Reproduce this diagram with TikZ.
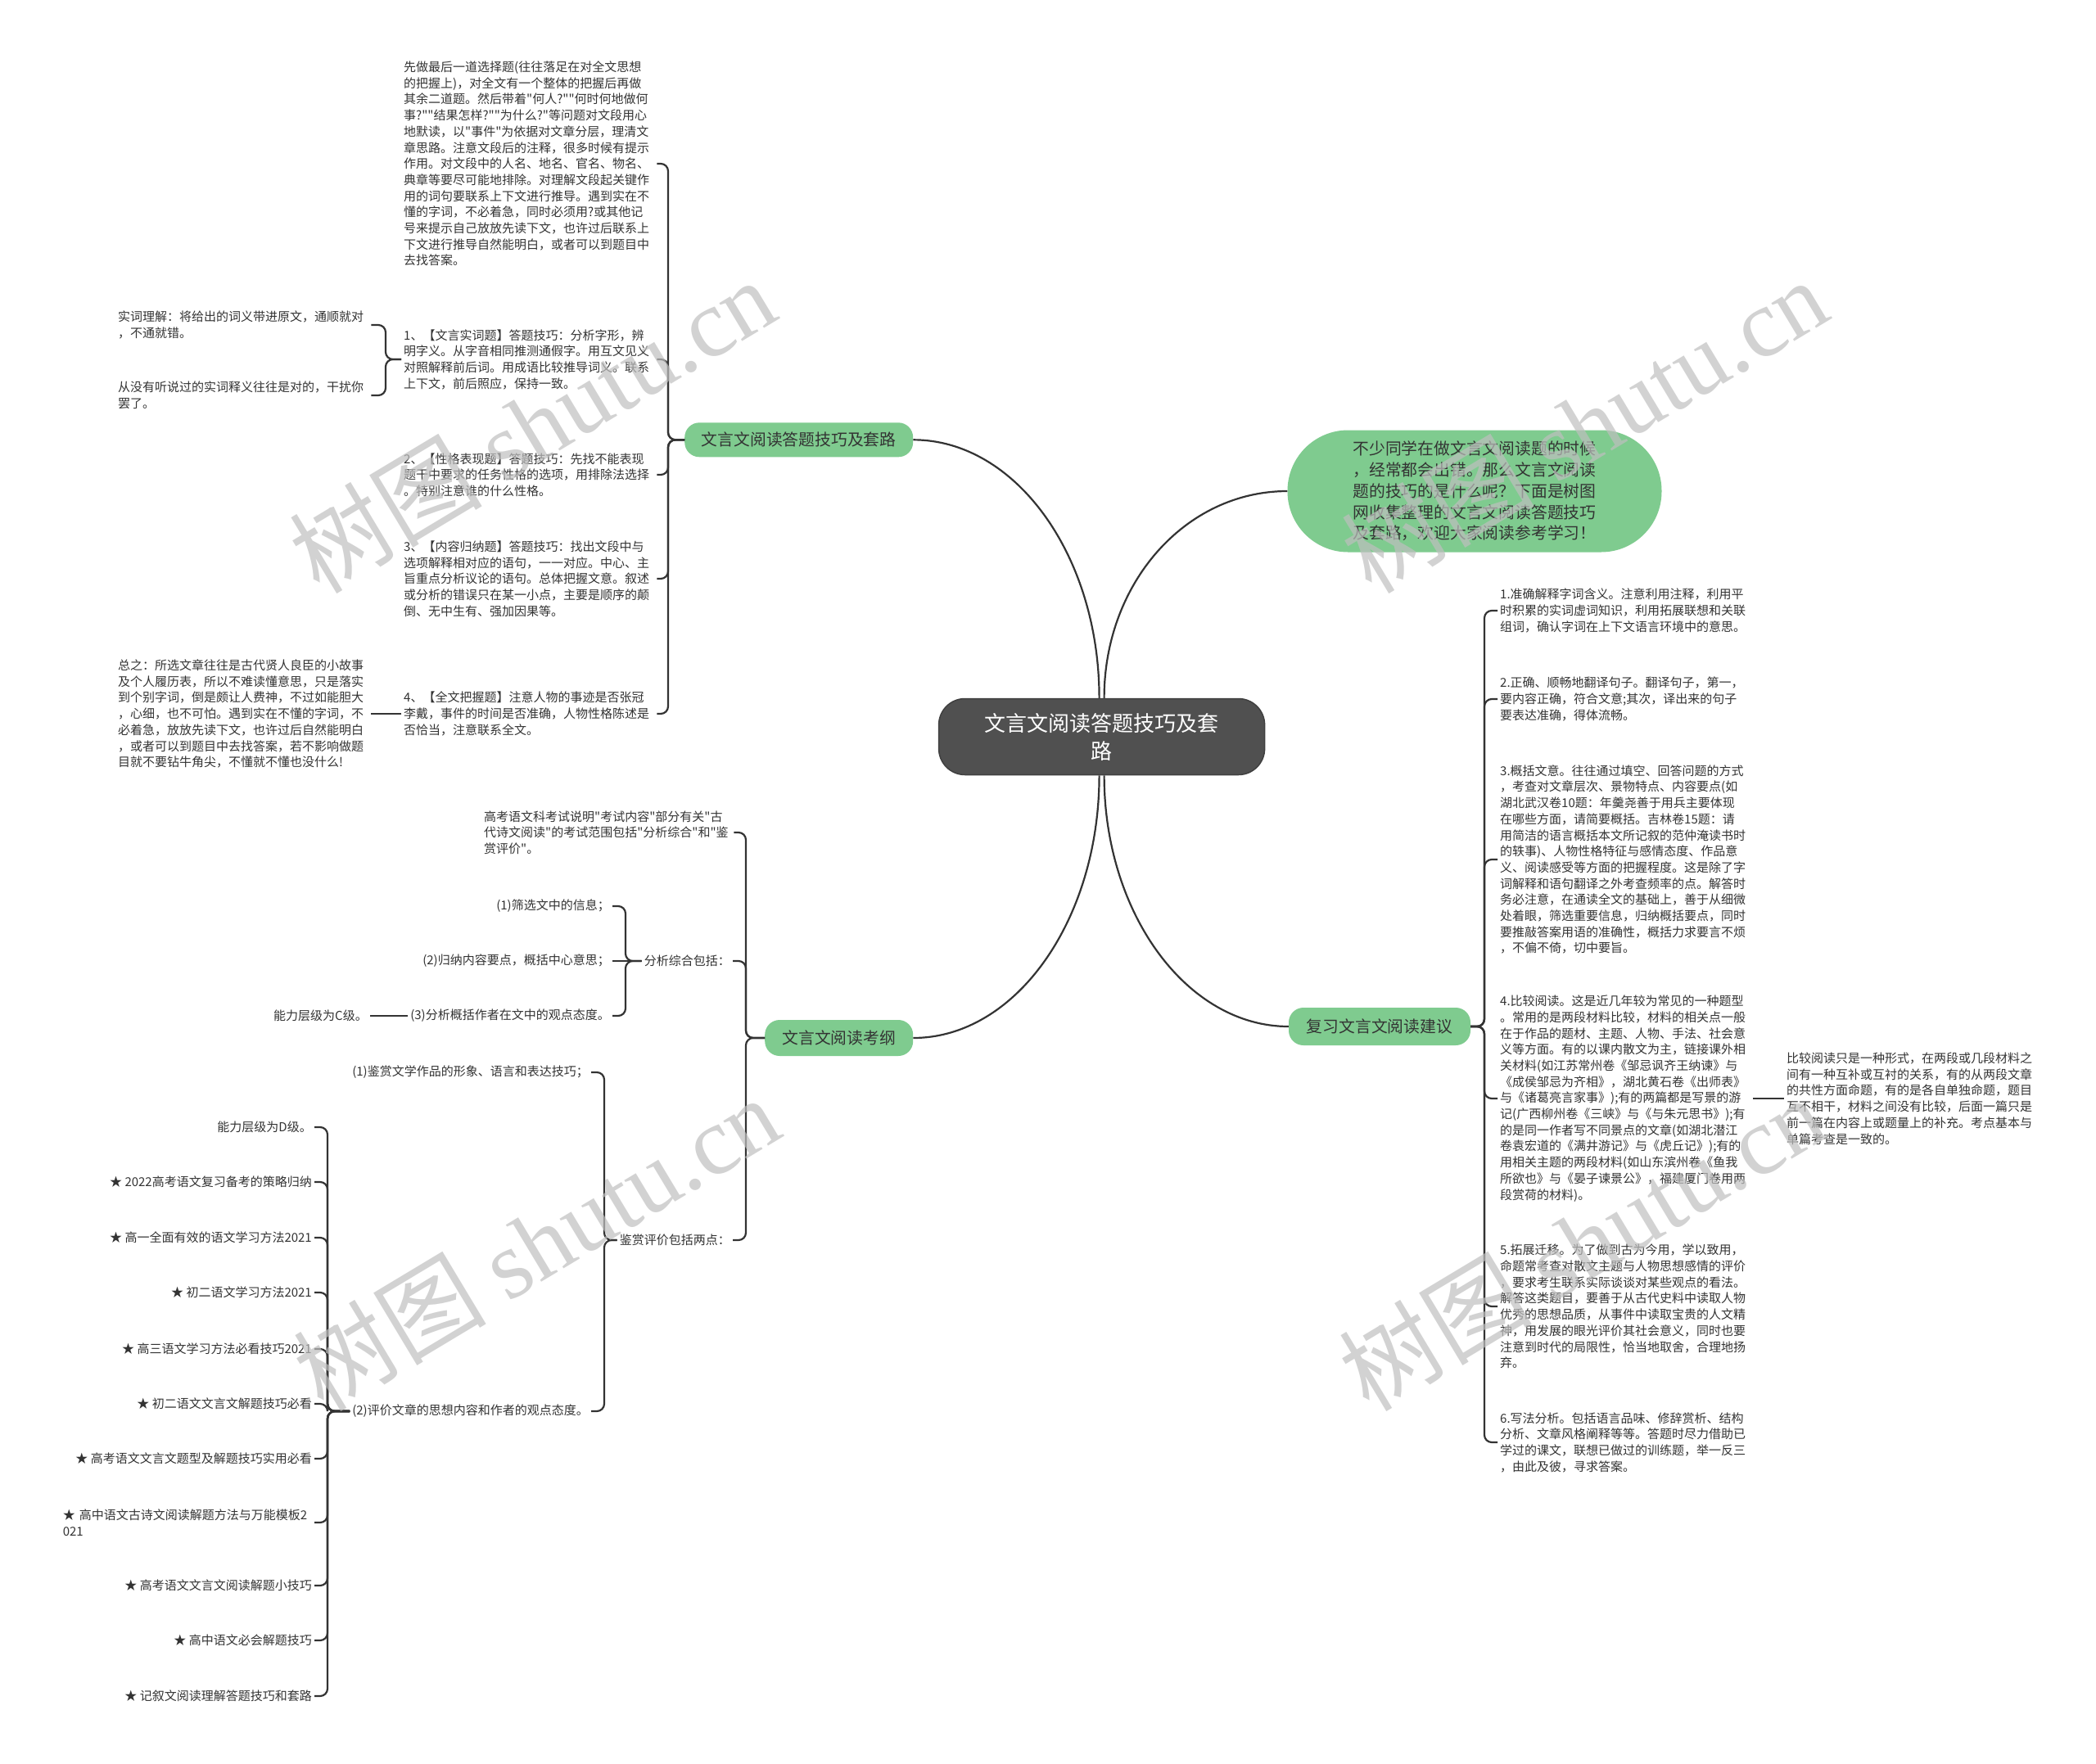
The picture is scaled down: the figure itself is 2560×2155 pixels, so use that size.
\documentclass[tikz,border=0pt]{standalone}
\usepackage{fontspec}
\newfontfamily\cjk{Noto Sans CJK SC}
\newfontfamily\wmserif{Liberation Serif}
\definecolor{linec}{HTML}{333333}
\definecolor{txtc}{HTML}{333333}
\definecolor{greenc}{HTML}{7FCB8F}
\definecolor{darkc}{HTML}{505050}
\newcommand{\fsmall}{\cjk\fontsize{15pt}{19.7pt}\selectfont}
\newcommand{\fbranch}{\cjk\fontsize{19.8pt}{25.7pt}\selectfont}
\newcommand{\fcenter}{\cjk\fontsize{26pt}{34pt}\selectfont}
\newcommand{\fwm}{\cjk\fontsize{118pt}{130pt}\selectfont}
\begin{document}
\begin{tikzpicture}[x=1pt,y=-1pt,
  conn/.style={draw=linec,line width=2.2pt,rounded corners=9pt},
  curve/.style={draw=linec,line width=2.2pt},
  leaf/.style={inner sep=3pt,align=left,text=txtc,font=\fsmall,text width=306pt,anchor=west},
  leafr/.style={inner sep=3pt,align=right,text=txtc,font=\fsmall,anchor=east},
  branch/.style={fill=greenc,rounded corners=18pt,text=txtc,font=\fbranch,inner sep=0pt,align=center},
  centerbox/.style={fill=darkc,draw=black!75,line width=1.5pt,rounded corners=32pt,text=white,font=\fcenter,align=center,minimum width=398pt,minimum height=93pt,inner sep=0pt},
  wm/.style={rotate=31,text=black!25,opacity=0.7,font=\fwm,inner sep=0pt}
]
\useasboundingbox (0,0) rectangle (2560,2155);
\fill[white] (0,0) rectangle (2560,2155);

% center and branches
\node[centerbox] (c) at (1345.6,900) {文言文阅读答题技巧及套\\路};
\node[branch,minimum width=279pt,minimum height=42pt] (b1) at (975.7,537.3) {文言文阅读答题技巧及套路};
\node[branch,minimum width=181pt,minimum height=44pt] (b2) at (1024.7,1268) {文言文阅读考纲};
\node[branch,minimum width=222pt,minimum height=46pt] (b3) at (1685,1254) {复习文言文阅读建议};
\node[branch,rounded corners=74pt,minimum width=457pt,minimum height=149pt,align=left] (intro) at (1801,600) {不少同学在做文言文阅读题的时候\\，经常都会出错。那么文言文阅读\\题的技巧的是什么呢？下面是树图\\网收集整理的文言文阅读答题技巧\\及套路，欢迎大家阅读参考学习！};

\draw[curve] ([xshift=-3pt]c.north) .. controls +(0,-174) and +(125,0) .. (b1.east);
\draw[curve] ([xshift=3pt]c.north) .. controls +(0,-140) and +(-125,0) .. (intro.west);
\draw[curve] ([xshift=-3pt]c.south) .. controls +(0,177) and +(125,0) .. (b2.east);
\draw[curve] ([xshift=3pt]c.south) .. controls +(0,169) and +(-124,0) .. (b3.west);

% ---- branch 1 children
\node[leaf] (c1) at (490,200) {先做最后一道选择题(往往落足在对全文思想\\的把握上)，对全文有一个整体的把握后再做\\其余二道题。然后带着"何人?""何时何地做何\\事?""结果怎样?""为什么?"等问题对文段用心\\地默读，以"事件"为依据对文章分层，理清文\\章思路。注意文段后的注释，很多时候有提示\\作用。对文段中的人名、地名、官名、物名、\\典章等要尽可能地排除。对理解文段起关键作\\用的词句要联系上下文进行推导。遇到实在不\\懂的字词，不必着急，同时必须用?或其他记\\号来提示自己放放先读下文，也许过后联系上\\下文进行推导自然能明白，或者可以到题目中\\去找答案。};
\node[leaf] (c2) at (490,439) {1、【文言实词题】答题技巧：分析字形，辨\\明字义。从字音相同推测通假字。用互文见义\\对照解释前后词。用成语比较推导词义。联系\\上下文，前后照应，保持一致。};
\node[leaf] (c3) at (490,580) {2、【性格表现题】答题技巧：先找不能表现\\题干中要求的任务性格的选项，用排除法选择\\。特别注意谁的什么性格。};
\node[leaf] (c4) at (490,707) {3、【内容归纳题】答题技巧：找出文段中与\\选项解释相对应的语句，一一对应。中心、主\\旨重点分析议论的语句。总体把握文意。叙述\\或分析的错误只在某一小点，主要是顺序的颠\\倒、无中生有、强加因果等。};
\node[leaf] (c5) at (490,872) {4、【全文把握题】注意人物的事迹是否张冠\\李戴，事件的时间是否准确，人物性格陈述是\\否恰当，注意联系全文。};
\node[leaf] (g1) at (141,397) {实词理解：将给出的词义带进原文，通顺就对\\，不通就错。};
\node[leaf] (g2) at (141,483) {从没有听说过的实词释义往往是对的，干扰你\\罢了。};
\node[leaf] (g3) at (141,872) {总之：所选文章往往是古代贤人良臣的小故事\\及个人履历表，所以不难读懂意思，只是落实\\到个别字词，倒是颇让人费神，不过如能胆大\\，心细，也不可怕。遇到实在不懂的字词，不\\必着急，放放先读下文，也许过后自然能明白\\，或者可以到题目中去找答案，若不影响做题\\目就不要钻牛角尖，不懂就不懂也没什么!};

\foreach \n in {c1,c2,c3,c4,c5}{\draw[conn] (b1.west) -- (816,537.3) |- (\n.east);}
\foreach \n in {g1,g2}{\draw[conn] (c2.west) -- (471,439) |- (\n.east);}
\draw[conn] (c5.west) -- (g3.east);

% ---- branch 2 children
\node[leaf,text width=302pt] (d1) at (588,1017) {高考语文科考试说明"考试内容"部分有关"古\\代诗文阅读"的考试范围包括"分析综合"和"鉴\\赏评价"。};
\node[leafr] (d2) at (895,1174) {分析综合包括：};
\node[leafr] (d3) at (895,1515) {鉴赏评价包括两点：};
\foreach \n in {d1,d2,d3}{\draw[conn] (b2.west) -- (911,1268) |- (\n.east);}

\node[leafr] (e1) at (748,1107) {(1)筛选文中的信息；};
\node[leafr] (e2) at (748,1174) {(2)归纳内容要点，概括中心意思；};
\node[leafr] (e3) at (748,1241) {(3)分析概括作者在文中的观点态度。};
\node[leafr] (e3c) at (452,1241) {能力层级为C级。};
\draw[conn] (d2.west) -- (764,1174) |- (e1.east);
\draw[conn] (d2.west) -- (e2.east);
\draw[conn] (d2.west) -- (764,1174) |- (e3.east);
\draw[conn] (e3.west) -- (e3c.east);

\node[leafr] (f1) at (722,1310) {(1)鉴赏文学作品的形象、语言和表达技巧；};
\node[leafr] (f2) at (722,1724) {(2)评价文章的思想内容和作者的观点态度。};
\foreach \n in {f1,f2}{\draw[conn] (d3.west) -- (738,1515) |- (\n.east);}

\node[leafr] (h1) at (384,1377) {能力层级为D级。};
\node[leafr] (h2) at (384,1444) {★ 2022高考语文复习备考的策略归纳};
\node[leafr] (h3) at (384,1512) {★ 高一全面有效的语文学习方法2021};
\node[leafr] (h4) at (384,1579) {★ 初二语文学习方法2021};
\node[leafr] (h5) at (384,1648) {★ 高三语文学习方法必看技巧2021};
\node[leafr] (h6) at (384,1715) {★ 初二语文文言文解题技巧必看};
\node[leafr] (h7) at (384,1782) {★ 高考语文文言文题型及解题技巧实用必看};
\node[leaf,anchor=east,text width=304pt] (h8) at (384,1860) {★ 高中语文古诗文阅读解题方法与万能模板2\\021};
\node[leafr] (h9) at (384,1937) {★ 高考语文文言文阅读解题小技巧};
\node[leafr] (h10) at (384,2004) {★ 高中语文必会解题技巧};
\node[leafr] (h11) at (384,2072) {★ 记叙文阅读理解答题技巧和套路};
\foreach \n in {h1,h2,h3,h4,h5,h6,h7,h8,h9,h10,h11}{\draw[conn] (f2.west) -- (400,1724) |- (\n.east);}

% ---- branch 3 children
\node[leaf] (r1) at (1829,746) {1.准确解释字词含义。注意利用注释，利用平\\时积累的实词虚词知识，利用拓展联想和关联\\组词，确认字词在上下文语言环境中的意思。};
\node[leaf] (r2) at (1829,854) {2.正确、顺畅地翻译句子。翻译句子，第一，\\要内容正确，符合文意;其次，译出来的句子\\要表达准确，得体流畅。};
\node[leaf] (r3) at (1829,1050) {3.概括文意。往往通过填空、回答问题的方式\\，考查对文章层次、景物特点、内容要点(如\\湖北武汉卷10题：年羹尧善于用兵主要体现\\在哪些方面，请简要概括。吉林卷15题：请\\用简洁的语言概括本文所记叙的范仲淹读书时\\的轶事)、人物性格特征与感情态度、作品意\\义、阅读感受等方面的把握程度。这是除了字\\词解释和语句翻译之外考查频率的点。解答时\\务必注意，在通读全文的基础上，善于从细微\\处着眼，筛选重要信息，归纳概括要点，同时\\要推敲答案用语的准确性，概括力求要言不烦\\，不偏不倚，切中要旨。};
\node[leaf] (r4) at (1829,1342) {4.比较阅读。这是近几年较为常见的一种题型\\。常用的是两段材料比较，材料的相关点一般\\在于作品的题材、主题、人物、手法、社会意\\义等方面。有的以课内散文为主，链接课外相\\关材料(如江苏常州卷《邹忌讽齐王纳谏》与\\《成侯邹忌为齐相》，湖北黄石卷《出师表》\\与《诸葛亮言家事》);有的两篇都是写景的游\\记(广西柳州卷《三峡》与《与朱元思书》);有\\的是同一作者写不同景点的文章(如湖北潜江\\卷袁宏道的《满井游记》与《虎丘记》);有的\\用相关主题的两段材料(如山东滨州卷《鱼我\\所欲也》与《晏子谏景公》，福建厦门卷用两\\段赏荷的材料)。};
\node[leaf] (r5) at (1829,1596) {5.拓展迁移。为了做到古为今用，学以致用，\\命题常考查对散文主题与人物思想感情的评价\\，要求考生联系实际谈谈对某些观点的看法。\\解答这类题目，要善于从古代史料中读取人物\\优秀的思想品质，从事件中读取宝贵的人文精\\神，用发展的眼光评价其社会意义，同时也要\\注意到时代的局限性，恰当地取舍，合理地扬\\弃。};
\node[leaf] (r6) at (1829,1762) {6.写法分析。包括语言品味、修辞赏析、结构\\分析、文章风格阐释等等。答题时尽力借助已\\学过的课文，联想已做过的训练题，举一反三\\，由此及彼，寻求答案。};
\node[leaf] (r4c) at (2179,1342) {比较阅读只是一种形式，在两段或几段材料之\\间有一种互补或互衬的关系，有的从两段文章\\的共性方面命题，有的是各自单独命题，题目\\互不相干，材料之间没有比较，后面一篇只是\\前一篇在内容上或题量上的补充。考点基本与\\单篇考查是一致的。};
\foreach \n in {r1,r2,r3,r4,r5,r6}{\draw[conn] (b3.east) -- (1813,1254) |- (\n.west);}
\draw[conn] (r4.east) -- (r4c.west);

% ---- watermarks
\node[wm] (wm1) at (650,519) {树图 {\wmserif shutu.cn}};
\node[wm] (wm2) at (1935,519) {树图 {\wmserif shutu.cn}};
\node[wm] (wm3) at (655,1518) {树图 {\wmserif shutu.cn}};
\node[wm] (wm4) at (1932,1518) {树图 {\wmserif shutu.cn}};
\end{tikzpicture}
\end{document}
